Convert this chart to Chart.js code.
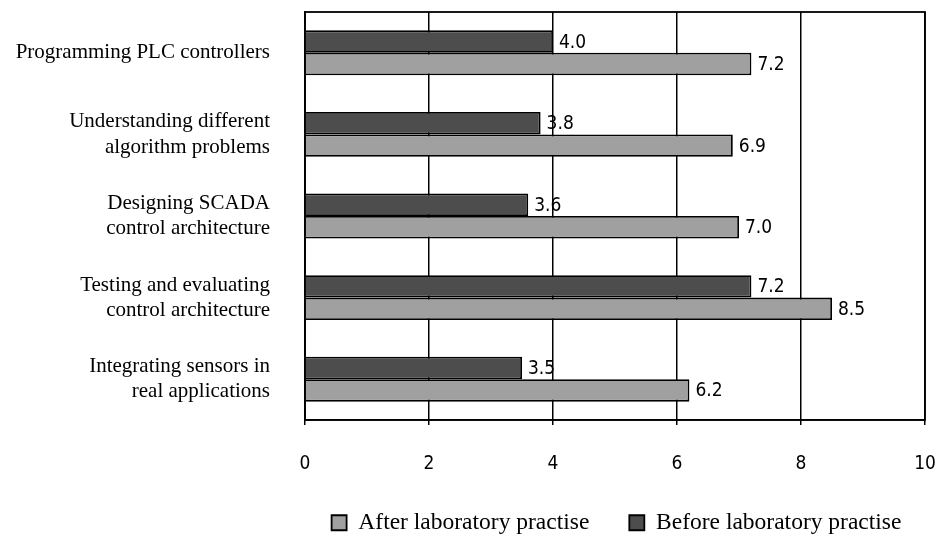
<!DOCTYPE html>
<html>
<head>
<meta charset="utf-8">
<script src="https://cdn.jsdelivr.net/npm/chart.js@4.4.0/dist/chart.umd.min.js"></script>
<style>
html,body{margin:0;padding:0;background:#fff;}
#wrap{width:937px;height:534px;position:relative;}
</style>
</head>
<body>
<div id="wrap"><canvas id="c" width="937" height="534"></canvas></div>
<script>
const categories = [
  "Programming PLC controllers",
  ["Understanding different", "algorithm problems"],
  ["Designing SCADA", "control architecture"],
  ["Testing and evaluating", "control architecture"],
  ["Integrating sensors in", "real applications"]
];
const beforeValues = [4.0, 3.8, 3.6, 7.2, 3.5];
const afterValues = [7.2, 6.9, 7.0, 8.5, 6.2];
const seriesNames = ["Before laboratory practise", "After laboratory practise"];

const serif = "'Liberation Serif', 'Times New Roman', serif";
const numFont = "'DejaVu Sans Condensed', 'Liberation Sans', sans-serif";

const valueLabels = {
  id: 'valueLabels',
  afterDatasetsDraw(chart) {
    const ctx = chart.ctx;
    ctx.save();
    ctx.font = "19px " + numFont;
    ctx.fillStyle = '#000';
    ctx.textAlign = 'left';
    ctx.textBaseline = 'middle';
    chart.data.datasets.forEach((ds, i) => {
      const meta = chart.getDatasetMeta(i);
      meta.data.forEach((bar, j) => {
        ctx.fillText(ds.data[j].toFixed(1), bar.x + 6, bar.y + 1);
      });
    });
    ctx.restore();
  }
};
const frame = {
  id: 'frame',
  afterLayout(chart) {
    const lg = chart.legend;
    if (lg) {
      const shift = 154;
      lg.left += shift; lg.right += shift;
      lg.top = 471; lg.bottom = 534;
    }
  },
  afterDraw(chart) {
    const a = chart.chartArea, ctx = chart.ctx;
    ctx.save();
    ctx.strokeStyle = '#000';
    ctx.lineWidth = 1.8;
    ctx.strokeRect(a.left, a.top, a.right - a.left, a.bottom - a.top);
    ctx.restore();
  }
};

new Chart(document.getElementById('c'), {
  type: 'bar',
  data: {
    labels: categories,
    datasets: [
      { label: seriesNames[0], data: beforeValues, backgroundColor: '#4d4d4d', borderColor: '#000', borderWidth: 1.8, categoryPercentage: 0.55, barPercentage: 1.0 },
      { label: seriesNames[1], data: afterValues, backgroundColor: '#a0a0a0', borderColor: '#000', borderWidth: 1.8, categoryPercentage: 0.55, barPercentage: 1.0 }
    ]
  },
  options: {
    indexAxis: 'y',
    responsive: false,
    animation: false,
    layout: { padding: { left: 0, right: 12, top: 12, bottom: 0 } },
    scales: {
      x: {
        min: 0, max: 10,
        ticks: { stepSize: 2, color: '#000', font: { family: numFont, size: 19 }, padding: 28 },
        grid: { color: '#000', lineWidth: 1.5, tickLength: 5, drawTicks: true, tickColor: '#000' },
        border: { color: '#000', width: 1.5 },
        afterFit(s) { s.height = 73; s.paddingLeft = 0; s.paddingRight = 0; }
      },
      y: {
        ticks: { color: '#000', font: { family: serif, size: 21 }, padding: 27, autoSkip: false },
        grid: { display: false },
        border: { color: '#000', width: 1.5 },
        afterFit(s) { s.width = 305; s.paddingTop = 0; s.paddingBottom = 0; }
      }
    },
    plugins: {
      legend: {
        position: 'bottom',
        reverse: true,
        maxHeight: 41,
        labels: { color: '#000', font: { family: serif, size: 23.5 }, boxWidth: 15, boxHeight: 15, padding: 40 }
      },
      tooltip: { enabled: false }
    }
  },
  plugins: [valueLabels, frame]
});
</script>
</body>
</html>
